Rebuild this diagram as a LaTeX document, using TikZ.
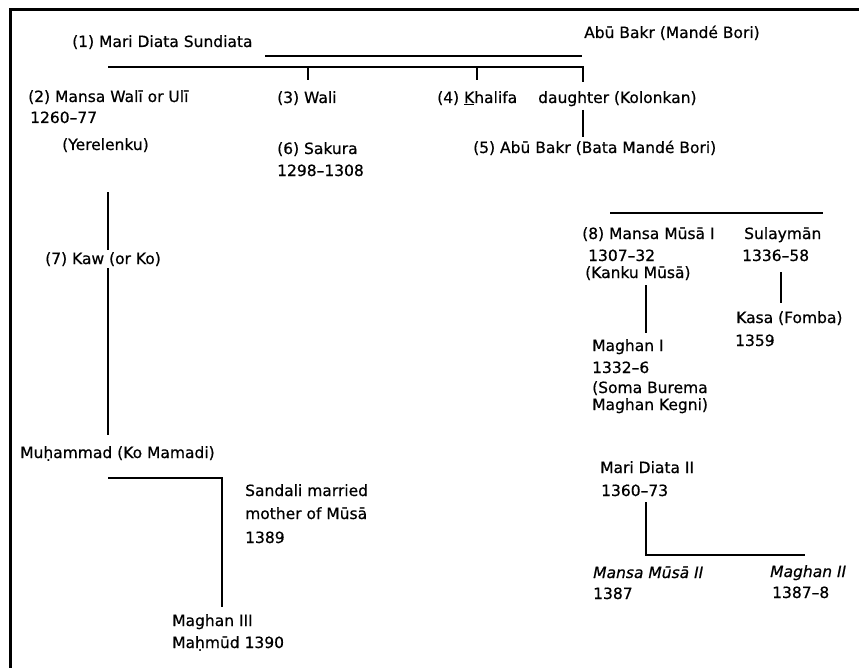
\documentclass[tikz,border=0pt]{standalone}
\usepackage{fontspec}
\setmainfont{DejaVu Sans}[FakeBold=0.6]
\begin{document}
\begin{tikzpicture}[x=1bp,y=-1bp,
  lbl/.style={anchor=base west,inner sep=0pt,font=\fontsize{15.5bp}{18bp}\selectfont},
  ilbl/.style={lbl,font=\fontsize{15.5bp}{18bp}\selectfont\itshape},
  link/.style={line width=2.6bp,line cap=butt,line join=miter},
  frame/.style={line width=3bp}]
\useasboundingbox (0,0) rectangle (859,668);
% coordinates for connectors
\coordinate (fA) at (10,668);
\coordinate (fB) at (10,10);
\coordinate (fC) at (859,10);
\coordinate (mL) at (265,56);
\coordinate (mR) at (582,56);
\coordinate (cL) at (108,67);
\coordinate (cR) at (583,67);
\coordinate (cD) at (583,82);
\coordinate (t3a) at (308,67);
\coordinate (t3b) at (308,80);
\coordinate (t4a) at (477,67);
\coordinate (t4b) at (477,80);
\coordinate (d5a) at (583,110);
\coordinate (d5b) at (583,137);
\coordinate (v2a) at (108,192);
\coordinate (v2b) at (108,435);
\coordinate (s8L) at (610,213);
\coordinate (s8R) at (823,213);
\coordinate (m1a) at (646,285);
\coordinate (m1b) at (646,333);
\coordinate (ksa) at (781,272);
\coordinate (ksb) at (781,303);
\coordinate (md2a) at (646,502);
\coordinate (md2b) at (646,555);
\coordinate (md2c) at (805,555);
\coordinate (mua) at (108,478);
\coordinate (mub) at (222,478);
\coordinate (muc) at (222,607);
% frame
\draw[frame] (fA) -- (fB) -- (fC);
% connectors
\draw[link] (mL) -- (mR);
\draw[link] (cL) -- (cR) -- (cD);
\draw[link] (t3a) -- (t3b);
\draw[link] (t4a) -- (t4b);
\draw[link] (d5a) -- (d5b);
\draw[link] (v2a) -- (v2b);
\draw[link] (s8L) -- (s8R);
\draw[link] (m1a) -- (m1b);
\draw[link] (ksa) -- (ksb);
\draw[link] (md2a) -- (md2b) -- (md2c);
\draw[link] (mua) -- (mub) -- (muc);
% texts
\node[lbl] (n1) at (72,47) {(1) Mari Diata Sundiata};
\node[lbl] (ab) at (584,38) {Abū Bakr (Mandé Bori)};
\node[lbl] (n2) at (28,102) {(2) Mansa Walī or Ulī};
\node[lbl] (n2y) at (30,123) {1260–77};
\node[lbl] (n2n) at (62,150) {(Yerelenku)};
\node[lbl] (n3) at (277,103) {(3) Wali};
\node[lbl] (n4) at (437,103) {(4) \underline{K}halifa};
\node[lbl] (dau) at (538,103) {daughter (Kolonkan)};
\node[lbl] (n5) at (473,153) {(5) Abū Bakr (Bata Mandé Bori)};
\node[lbl] (n6) at (277,154) {(6) Sakura};
\node[lbl] (n6y) at (277,176) {1298–1308};
\node[lbl,fill=white,inner xsep=0pt,inner ysep=2pt] (n7) at (45,264) {(7) Kaw (or Ko)};
\node[lbl] (n8) at (582,239) {(8) Mansa Mūsā I};
\node[lbl] (n8y) at (588,261) {1307–32};
\node[lbl] (n8n) at (585,278) {(Kanku Mūsā)};
\node[lbl] (sul) at (744,239) {Sulaymān};
\node[lbl] (suly) at (742,261) {1336–58};
\node[lbl] (kas) at (736,323) {Kasa (Fomba)};
\node[lbl] (kasy) at (735,346) {1359};
\node[lbl] (mg1) at (592,351) {Maghan I};
\node[lbl] (mg1y) at (592,373) {1332–6};
\node[lbl] (mg1n) at (592,393) {(Soma Burema};
\node[lbl] (mg1m) at (592,410) {Maghan Kegni)};
\node[lbl] (muh) at (20,458) {Muḥammad (Ko Mamadi)};
\node[lbl] (san) at (245,496) {Sandali married};
\node[lbl] (sanm) at (245,519) {mother of Mūsā};
\node[lbl] (sany) at (245,543) {1389};
\node[lbl] (mg3) at (172,626) {Maghan III};
\node[lbl] (mg3n) at (172,648) {Maḥmūd 1390};
\node[lbl] (md2) at (600,473) {Mari Diata II};
\node[lbl] (md2y) at (601,496) {1360–73};
\node[ilbl] (ms2) at (593,578) {Mansa Mūsā II};
\node[lbl] (ms2y) at (593,599) {1387};
\node[ilbl] (mg2) at (770,577) {Maghan II};
\node[lbl] (mg2y) at (772,598) {1387–8};
\end{tikzpicture}
\end{document}
